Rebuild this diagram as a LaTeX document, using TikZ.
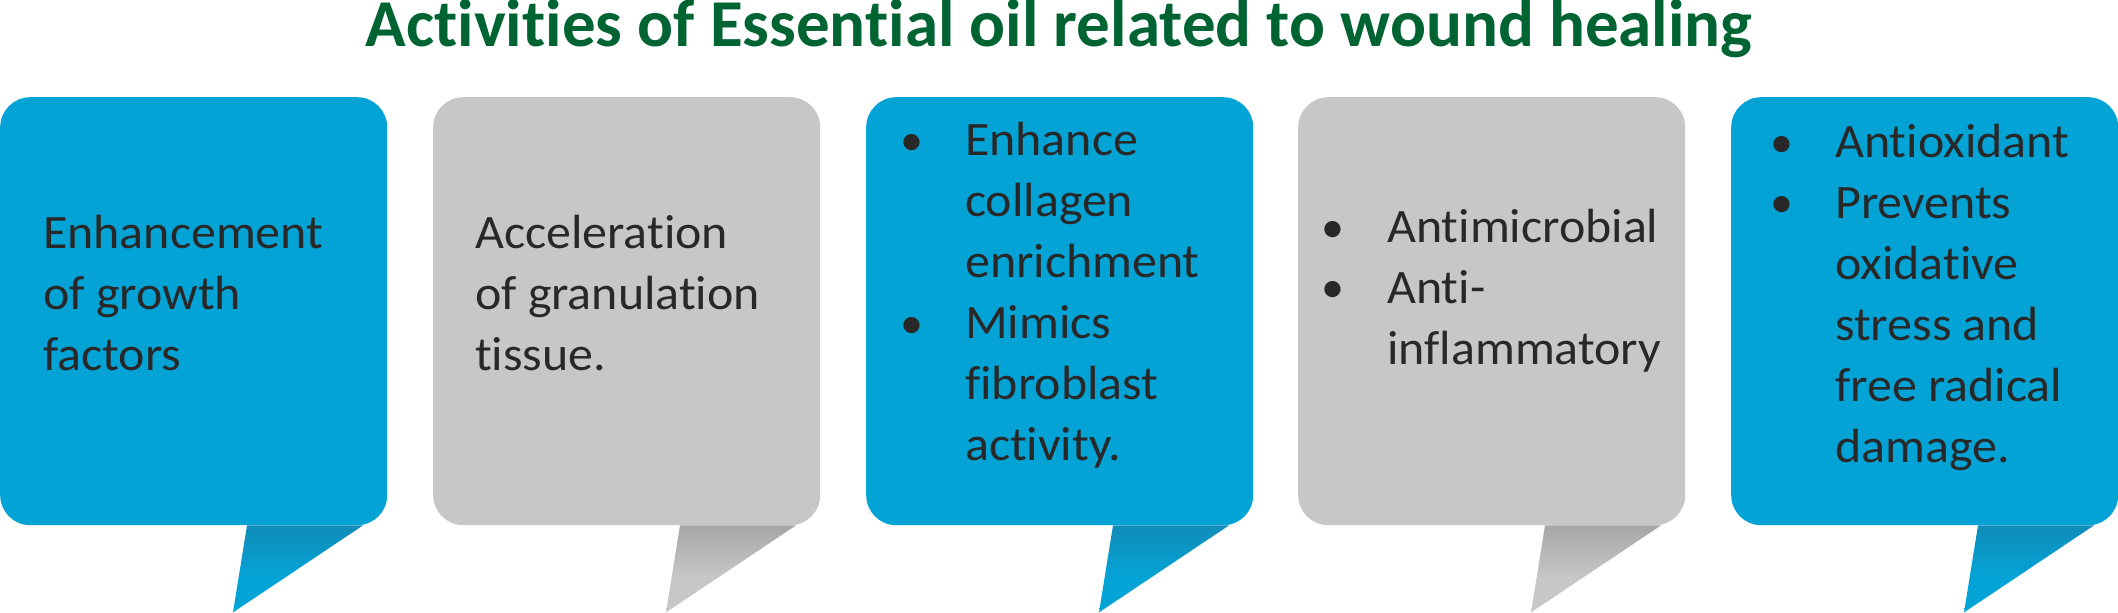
\documentclass[tikz,border=0pt]{standalone}
\usepackage{fontspec}
\setmainfont{Carlito}[Ligatures=CommonOff]
\newfontfamily\bodyfont{Carlito}[Ligatures=CommonOff,FakeStretch=1.04]
\usetikzlibrary{calc}
\definecolor{boxblue}{RGB}{3,163,214}
\definecolor{boxgray}{RGB}{198,199,198}
\definecolor{taildark}{RGB}{28,122,160}
\definecolor{tailgraydark}{RGB}{140,140,140}
\definecolor{txt}{RGB}{40,40,40}
\definecolor{titlegreen}{RGB}{0,100,50}
\pgfdeclareverticalshading{bluetail}{100bp}{color(0bp)=(boxblue); color(45bp)=(boxblue); color(100bp)=(taildark)}
\pgfdeclareverticalshading{graytail}{100bp}{color(0bp)=(boxgray); color(45bp)=(boxgray); color(100bp)=(tailgraydark)}
\tikzset{
  bubble/.style={anchor=north west, minimum width=387pt, minimum height=428pt, rounded corners=30pt, inner sep=0pt, draw=none},
  bluebox/.style={bubble, fill=boxblue},
  graybox/.style={bubble, fill=boxgray},
  bodytext/.style={anchor=base west, inner sep=0pt, text=txt, font=\bodyfont\fontsize{48pt}{61pt}\selectfont},
  bul/.style={anchor=base, inner sep=0pt, text=txt, font=\fontsize{46pt}{61pt}\selectfont},
  titletext/.style={anchor=base, inner sep=0pt, text=titlegreen, font=\fontsize{67pt}{70pt}\selectfont\bfseries}
}
\newcommand{\lines}[1]{\parbox[t]{360pt}{\raggedright #1}}
\begin{document}
\begin{tikzpicture}[x=1pt,y=-1pt]
\useasboundingbox (0,0) rectangle (2118,613);
% title
\node[titletext] (title) at (1059,46) {Activities of Essential oil related to wound healing};
% boxes
\node[bluebox] (b1) at (0,97) {};
\node[graybox] (b2) at (433,97) {};
\node[bluebox] (b3) at (866,97) {};
\node[graybox] (b4) at (1298,97) {};
\node[bluebox] (b5) at (1731,97) {};
% tails
\foreach \b/\s in {b1/bluetail,b2/graytail,b3/bluetail,b4/graytail,b5/bluetail}{
  \coordinate (\b-tl) at ($(\b.south west)+(247,0)$);
  \coordinate (\b-tip) at ($(\b.south west)+(233,87)$);
  \coordinate (\b-tr) at ($(\b.south west)+(363,0)$);
  \shade[shading=\s] (\b-tl) -- (\b-tip) -- (\b-tr) -- cycle;
}
% box 1
\node[bodytext] (t1) at (43,248) {\lines{Enhancement\\of growth\\factors}};
% box 2
\node[bodytext] (t2) at (475,248) {\lines{Acceleration\\of granulation\\tissue.}};
% box 3
\node[bul] (d31) at (912,155) {\textbullet};
\node[bul] (d32) at (912,338) {\textbullet};
\node[bodytext] (t3) at (965,155) {\lines{Enhance\\collagen\\enrichment\\Mimics\\fibroblast\\activity.}};
% box 4
\node[bul] (d41) at (1333,242) {\textbullet};
\node[bul] (d42) at (1333,302) {\textbullet};
\node[bodytext] (t4) at (1387,242) {\lines{Antimicrobial\\Anti-\\inflammatory}};
% box 5
\node[bul] (d51) at (1782,157) {\textbullet};
\node[bul] (d52) at (1782,217) {\textbullet};
\node[bodytext] (t5) at (1835,157) {\lines{Antioxidant\\Prevents\\oxidative\\stress and\\free radical\\damage.}};
\end{tikzpicture}
\end{document}
